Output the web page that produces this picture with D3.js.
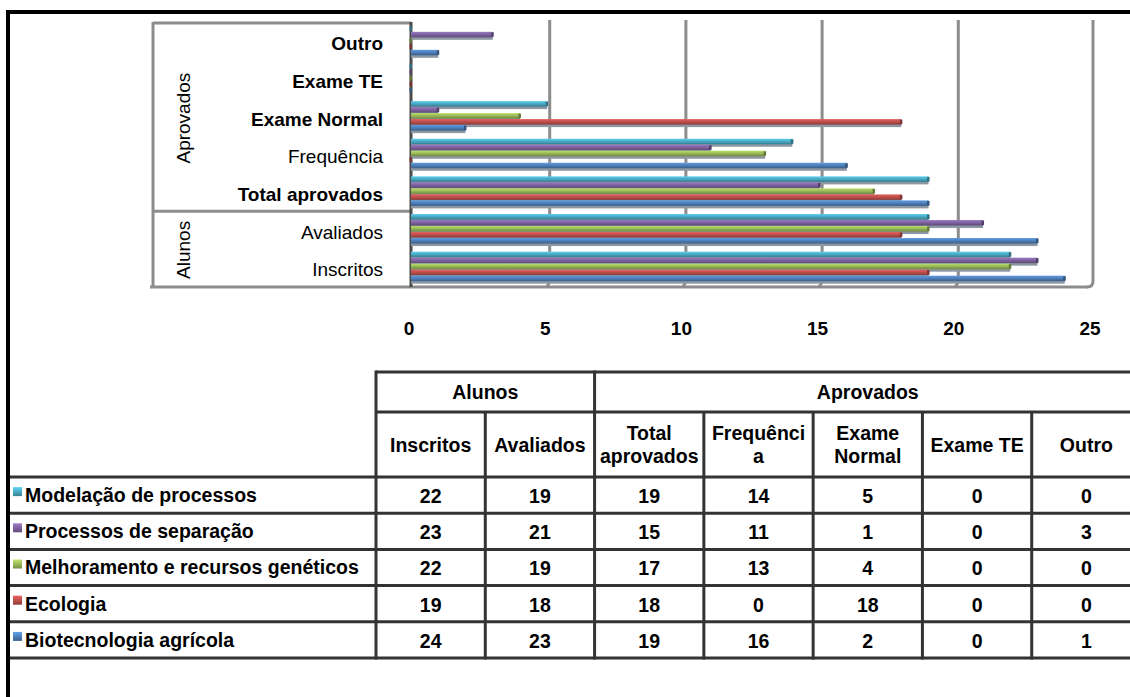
<!DOCTYPE html>
<html>
<head>
<meta charset="utf-8">
<script src="https://cdn.jsdelivr.net/npm/d3@7"></script>
<style>
  html, body { margin: 0; padding: 0; background: #ffffff; }
  svg { display: block; font-family: "Liberation Sans", Arial, sans-serif; }
</style>
</head>
<body>
<svg id="chart" width="1130" height="697"></svg>
<script>
// ---- data ----
const categories = ["Inscritos", "Avaliados", "Total aprovados", "Frequência", "Exame Normal", "Exame TE", "Outro"];
const boldCategories = ["Total aprovados", "Exame Normal", "Exame TE", "Outro"];
const groupNames = ["Alunos", "Aprovados"];
const alunosMembers = ["Inscritos", "Avaliados"];
const aprovadosMembers = ["Total aprovados", "Frequência", "Exame Normal", "Exame TE", "Outro"];

const seriesNames = ["Modelação de processos", "Processos de separação", "Melhoramento e recursos genéticos", "Ecologia", "Biotecnologia agrícola"];
const seriesColors = ["#4bacc6", "#8064a2", "#9bbb59", "#c0504d", "#4f81bd"];

const modelacaoValues     = [22, 19, 19, 14, 5, 0, 0];
const separacaoValues     = [23, 21, 15, 11, 1, 0, 3];
const melhoramentoValues  = [22, 19, 17, 13, 4, 0, 0];
const ecologiaValues      = [19, 18, 18, 0, 18, 0, 0];
const biotecnologiaValues = [24, 23, 19, 16, 2, 0, 1];

const tickValues = [0, 5, 10, 15, 20, 25];
const headerLabels = [["Inscritos"], ["Avaliados"], ["Total", "aprovados"], ["Frequênci", "a"], ["Exame", "Normal"], ["Exame TE"], ["Outro"]];

const seriesValues = [modelacaoValues, separacaoValues, melhoramentoValues, ecologiaValues, biotecnologiaValues];
const series = seriesNames.map((name, i) => ({
  name, color: seriesColors[i], index: i,
  values: categories.map((c, j) => ({ category: c, value: seriesValues[i][j] }))
}));

// ---- setup ----
const svg = d3.select("#chart");
const defs = svg.append("defs");
const FONT = 19;

series.forEach(s => {
  const c = d3.color(s.color);
  const g = defs.append("linearGradient").attr("id", "bar" + s.index)
    .attr("x1", 0).attr("y1", 0).attr("x2", 0).attr("y2", 1);
  g.append("stop").attr("offset", "0%").attr("stop-color", c.brighter(0.5).formatHex());
  g.append("stop").attr("offset", "45%").attr("stop-color", s.color);
  g.append("stop").attr("offset", "100%").attr("stop-color", c.darker(0.9).formatHex());
});

// ---- chart scales ----
const x = d3.scaleLinear().domain([0, 25]).range([411, 1092]);
const y = d3.scaleBand().domain(categories.slice().reverse()).range([22, 285.5]);
const yInner = d3.scaleBand().domain(seriesNames).range([0, 30]);
const groupTop = (y.bandwidth() - 30) / 2;

const gridColor = "#8c8c8c";
const chart = svg.append("g");

// back-wall gridlines with a small 3D foot at the floor
tickValues.slice(1, -1).forEach(v => {
  const gx = x(v) + 2.5;
  chart.append("path")
    .attr("d", `M${gx},20 V282 L${x(v) - 0.5},287`)
    .attr("fill", "none").attr("stroke", gridColor).attr("stroke-width", 3);
});
// right wall edge with rounded corner
chart.append("path")
  .attr("d", `M${x(25) + 1},20 V281 Q${x(25) + 1},287 ${x(25) - 5},287`)
  .attr("fill", "none").attr("stroke", gridColor).attr("stroke-width", 3);
// floor line
chart.append("line").attr("x1", 150).attr("x2", x(25) - 4).attr("y1", 287).attr("y2", 287)
  .attr("stroke", gridColor).attr("stroke-width", 3);

// category-group frame lines
chart.append("line").attr("x1", 153).attr("x2", x(0)).attr("y1", 23).attr("y2", 23)
  .attr("stroke", gridColor).attr("stroke-width", 3);
chart.append("line").attr("x1", 153).attr("x2", 153).attr("y1", 22).attr("y2", 288)
  .attr("stroke", gridColor).attr("stroke-width", 3);
const sepY = y(alunosMembers[1]);
chart.append("line").attr("x1", 153).attr("x2", x(0)).attr("y1", sepY + 1).attr("y2", sepY + 1)
  .attr("stroke", gridColor).attr("stroke-width", 3);

// value axis line
chart.append("line").attr("x1", x(0)).attr("x2", x(0)).attr("y1", 22).attr("y2", 287)
  .attr("stroke", "#4a4a4a").attr("stroke-width", 3);

// bars
const barH = 5.5;
series.forEach(s => {
  const g = chart.append("g");
  const ys = d => y(d.category) + groupTop + yInner(s.name);
  // shadow beneath each bar
  g.selectAll("rect.shadow").data(s.values).join("rect").attr("class", "shadow")
    .attr("x", x(0)).attr("y", d => ys(d) + 2.5)
    .attr("width", d => Math.max(0, x(d.value) - x(0)))
    .attr("height", barH)
    .attr("fill", "#8d97a3");
});
series.forEach(s => {
  const g = chart.append("g");
  const ys = d => y(d.category) + groupTop + yInner(s.name);
  g.selectAll("rect.bar").data(s.values).join("rect").attr("class", "bar")
    .attr("x", x(0)).attr("y", ys)
    .attr("width", d => Math.max(0, x(d.value) - x(0)))
    .attr("height", barH)
    .attr("fill", `url(#bar${s.index})`);
  // bar end caps
  g.selectAll("rect.cap").data(s.values).join("rect").attr("class", "cap")
    .attr("x", d => x(d.value) - 1.5).attr("y", d => ys(d) + 0.5)
    .attr("width", 2.5).attr("height", barH - 1)
    .attr("fill", d3.color(s.color).darker(1.2).formatHex());
});

// category labels
chart.append("g").selectAll("text").data(categories).join("text")
  .attr("x", 383).attr("y", d => y(d) + y.bandwidth() / 2 + 3)
  .attr("dy", "0.35em").attr("text-anchor", "end")
  .attr("font-size", FONT)
  .attr("font-weight", d => boldCategories.includes(d) ? "bold" : "normal")
  .attr("fill", "#000")
  .text(d => d);

// group labels (rotated)
const groupSpans = [alunosMembers, aprovadosMembers];
groupNames.forEach((name, i) => {
  const members = groupSpans[i];
  const top = d3.min(members, m => y(m));
  const bottom = d3.max(members, m => y(m) + y.bandwidth());
  const cy = (top + bottom) / 2 + 2;
  chart.append("text")
    .attr("transform", `translate(183,${cy}) rotate(-90)`)
    .attr("text-anchor", "middle").attr("dy", "0.35em")
    .attr("font-size", FONT).attr("fill", "#000")
    .text(name);
});

// tick labels
chart.append("g").selectAll("text").data(tickValues).join("text")
  .attr("x", d => x(d) - 2).attr("y", 328).attr("dy", "0.35em")
  .attr("text-anchor", "middle").attr("font-size", FONT).attr("font-weight", "bold")
  .text(d => d);

// ---- data table ----
const col = d3.scaleBand().domain(categories).range([376, 1141]);
const row = d3.scaleBand().domain(seriesNames).range([477, 658]);
const tbl = svg.append("g");
const lineColor = "#333333";
const TFONT = 19.5;

const hLine = (x1, x2, yy) => tbl.append("line").attr("x1", x1).attr("x2", x2).attr("y1", yy).attr("y2", yy)
  .attr("stroke", lineColor).attr("stroke-width", 3);
const vLine = (xx, y1, y2) => tbl.append("line").attr("x1", xx).attr("x2", xx).attr("y1", y1).attr("y2", y2)
  .attr("stroke", lineColor).attr("stroke-width", 3);

hLine(376, 1141, 372);
hLine(376, 1141, 412);
[...seriesNames.map(s => row(s)), 658].forEach(yy => hLine(8, 1141, yy));
vLine(376, 370.5, 659.5);
vLine(col(aprovadosMembers[0]), 370.5, 659.5);
categories.forEach(c => {
  if (c !== categories[0] && c !== aprovadosMembers[0]) vLine(col(c), 412, 659.5);
});

// header row 1
const hdrCenters = [
  (col(alunosMembers[0]) + col(alunosMembers[1]) + col.bandwidth()) / 2,
  (col(aprovadosMembers[0]) + col(aprovadosMembers[4]) + col.bandwidth()) / 2
];
groupNames.forEach((n, i) => {
  tbl.append("text").attr("x", hdrCenters[i]).attr("y", 392).attr("dy", "0.35em")
    .attr("text-anchor", "middle").attr("font-size", TFONT).attr("font-weight", "bold")
    .text(n);
});

// header row 2
categories.forEach((c, i) => {
  const lines = headerLabels[i];
  const cx = col(c) + col.bandwidth() / 2;
  const cy = 445;
  lines.forEach((ln, k) => {
    tbl.append("text").attr("x", cx).attr("y", cy + (k - (lines.length - 1) / 2) * 23)
      .attr("dy", "0.35em").attr("text-anchor", "middle")
      .attr("font-size", TFONT).attr("font-weight", "bold").text(ln);
  });
});

// legend markers and row labels
const mGrad = series.map(s => {
  const c = d3.color(s.color);
  const g = defs.append("linearGradient").attr("id", "mk" + s.index)
    .attr("x1", 0).attr("y1", 0).attr("x2", 0).attr("y2", 1);
  g.append("stop").attr("offset", "0%").attr("stop-color", c.brighter(0.6).formatHex());
  g.append("stop").attr("offset", "50%").attr("stop-color", s.color);
  g.append("stop").attr("offset", "100%").attr("stop-color", c.darker(0.8).formatHex());
  return "mk" + s.index;
});

series.forEach(s => {
  const cy = row(s.name) + row.bandwidth() / 2;
  tbl.append("rect").attr("x", 13).attr("y", cy - 8).attr("width", 9).attr("height", 9)
    .attr("fill", `url(#${mGrad[s.index]})`);
  tbl.append("text").attr("x", 25).attr("y", cy).attr("dy", "0.35em")
    .attr("font-size", TFONT).attr("font-weight", "bold").text(s.name);
  tbl.append("g").selectAll("text").data(s.values).join("text")
    .attr("x", d => col(d.category) + col.bandwidth() / 2).attr("y", cy + 1).attr("dy", "0.35em")
    .attr("text-anchor", "middle").attr("font-size", TFONT).attr("font-weight", "bold")
    .text(d => d.value);
});

// outer frame
svg.append("path").attr("d", "M8,697 V12 H1130")
  .attr("fill", "none").attr("stroke", "#000").attr("stroke-width", 4);
</script>
</body>
</html>
